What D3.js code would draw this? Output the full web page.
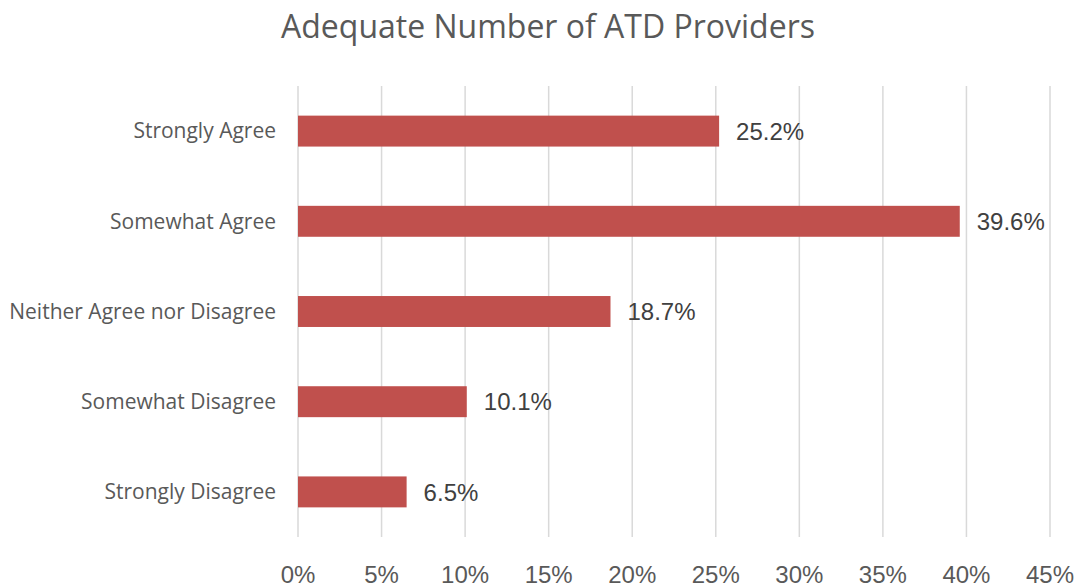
<!DOCTYPE html>
<html><head><meta charset="utf-8">
<script src="https://cdn.jsdelivr.net/npm/d3@7"></script>
<style>body{margin:0;background:#fff}</style>
</head><body>
<svg id="chart" width="1083" height="588"></svg>
<script>
const categories = ["Strongly Agree","Somewhat Agree","Neither Agree nor Disagree","Somewhat Disagree","Strongly Disagree"];
const values = [25.2, 39.6, 18.7, 10.1, 6.5];
const tickValues = [0,5,10,15,20,25,30,35,40,45];
const title = "Adequate Number of ATD Providers";

const svg = d3.select("#chart");
const x = d3.scaleLinear().domain([0,45]).range([298,1050]);
const y = d3.scaleBand().domain(categories).range([86,537]).paddingInner(0.657).paddingOuter(0.3285);

svg.append("text").attr("x",548).attr("y",38).attr("text-anchor","middle")
  .attr("font-family","Open Sans").attr("font-size",32).attr("fill","#595959").text(title);

svg.append("g").selectAll("line").data(tickValues).join("line")
  .attr("x1",d=>x(d)).attr("x2",d=>x(d)).attr("y1",86).attr("y2",537)
  .attr("stroke","#d9d9d9").attr("stroke-width",1.5);

svg.append("g").selectAll("rect").data(values).join("rect")
  .attr("x",x(0)).attr("y",(d,i)=>y(categories[i])).attr("width",d=>x(d)-x(0)).attr("height",y.bandwidth())
  .attr("fill","#c0504d");

svg.append("g").selectAll("text").data(values).join("text")
  .attr("x",d=>x(d)+17).attr("y",(d,i)=>y(categories[i])+y.bandwidth()/2).attr("dy","0.36em")
  .attr("font-family","Liberation Sans, Arial").attr("font-size",24).attr("fill","#404040")
  .text(d=>d.toFixed(1)+"%");

svg.append("g").selectAll("text").data(categories).join("text")
  .attr("x",276).attr("y",d=>y(d)+y.bandwidth()/2).attr("dy","0.35em").attr("text-anchor","end")
  .attr("font-family","Open Sans").attr("font-size",21).attr("fill","#595959").text(d=>d);

svg.append("g").selectAll("text").data(tickValues).join("text")
  .attr("x",d=>x(d)).attr("y",583).attr("text-anchor","middle")
  .attr("font-family","Liberation Sans, Arial").attr("font-size",24).attr("fill","#595959")
  .text(d=>d+"%");
</script>
</body></html>
